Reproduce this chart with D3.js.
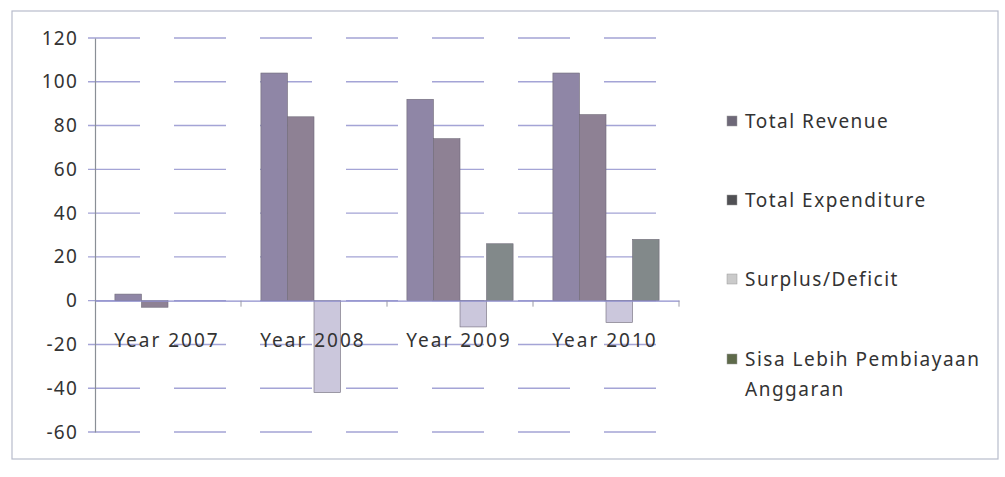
<!DOCTYPE html>
<html>
<head>
<meta charset="utf-8">
<script src="https://cdn.jsdelivr.net/npm/d3@7"></script>
<style>
  body { margin: 0; background: #fff; }
  text { font-family: "Noto Sans", "Open Sans", sans-serif; fill: #333; }
</style>
</head>
<body>
<div id="chart"></div>
<script>
// chart values
var years = ["Year 2007", "Year 2008", "Year 2009", "Year 2010"];
var seriesNames = ["Total Revenue", "Total Expenditure", "Surplus/Deficit", "Sisa Lebih Pembiayaan Anggaran"];
var revenue = [3, 104, 92, 104];
var expenditure = [-3, 84, 74, 85];
var surplus = [0, -42, -12, -10];
var silpa = [0, 0, 26, 28];
var yTicks = [-60, -40, -20, 0, 20, 40, 60, 80, 100, 120];

var svgWidth = 1005;
var svgHeight = 477;

var barColors = ["#8f86a6", "#8e8194", "#cbc7dc", "#82898a"];
var keyColors = ["#6e6878", "#505054", "#cacaca", "#5e6a4a"];

var svg = d3.select("#chart")
  .append("svg")
  .attr("width", svgWidth)
  .attr("height", svgHeight);

// outer frame of the pasted chart
svg.append("rect")
  .attr("x", 12).attr("y", 11)
  .attr("width", 986).attr("height", 448)
  .attr("fill", "none")
  .attr("stroke", "#b8bccc")
  .attr("stroke-width", 1.2);

var plot = { left: 95, right: 679, top: 38, bottom: 432 };

var y = d3.scaleLinear()
  .domain([-60, 120])
  .range([plot.bottom, plot.top]);

var x0 = d3.scaleBand()
  .domain(years)
  .range([plot.left, plot.right])
  .paddingInner(0)
  .paddingOuter(0);

var x1 = d3.scaleBand()
  .domain(seriesNames)
  .range([0, x0.bandwidth()])
  .paddingInner(0)
  .paddingOuter(0.75);

// gridlines (faded, scanned look)
svg.append("g")
  .selectAll("line")
  .data(yTicks)
  .enter()
  .append("line")
  .attr("x1", plot.left - 7)
  .attr("x2", plot.right)
  .attr("y1", d => y(d))
  .attr("y2", d => y(d))
  .attr("stroke", "#8e8ecc")
  .attr("stroke-width", 1.4)
  .attr("stroke-dasharray", "52,34")
  .attr("opacity", 0.8);

// y axis
var leftAxis = d3.axisLeft(y).tickValues(yTicks).tickSize(0).tickPadding(17)
  .tickFormat(d => String(d));
var yAxis = svg.append("g")
  .attr("transform", `translate(${plot.left}, 0)`)
  .call(leftAxis);
yAxis.select(".domain").attr("stroke", "#8a8f96").attr("stroke-width", 1.2);
yAxis.selectAll("text")
  .attr("font-size", 19)
  .attr("letter-spacing", 1.2)
  .attr("fill", "#3a3a3a")
  .style("font-family", "'Noto Sans', sans-serif");

// bars
var rows = years.map(function (yr, i) {
  return { year: yr, values: [revenue[i], expenditure[i], surplus[i], silpa[i]] };
});

var groups = svg.selectAll(".yearGroup")
  .data(rows)
  .enter()
  .append("g")
  .attr("class", "yearGroup")
  .attr("transform", d => `translate(${x0(d.year)}, 0)`);

groups.selectAll("rect")
  .data(d => d.values
    .map((v, j) => ({ name: seriesNames[j], value: v, idx: j }))
    .filter(b => b.value !== 0))
  .enter()
  .append("rect")
  .attr("x", d => x1(d.name))
  .attr("width", x1.bandwidth())
  .attr("y", d => y(Math.max(0, d.value)))
  .attr("height", d => Math.abs(y(d.value) - y(0)))
  .attr("fill", d => barColors[d.idx])
  .attr("stroke", "#6f6a78")
  .attr("stroke-width", 0.6);

// x axis at zero
var bottomAxis = d3.axisBottom(x0).tickSize(0).tickFormat("");
var xAxis = svg.append("g")
  .attr("transform", `translate(0, ${y(0)})`)
  .call(bottomAxis);
xAxis.select(".domain").attr("stroke", "#8e8ecc").attr("stroke-width", 1.4);

// category boundary ticks
svg.append("g")
  .selectAll("line")
  .data(years.slice(1).concat(["end"]))
  .enter()
  .append("line")
  .attr("x1", (d, i) => plot.left + x0.step() * (i + 1))
  .attr("x2", (d, i) => plot.left + x0.step() * (i + 1))
  .attr("y1", y(0))
  .attr("y2", y(0) + 6)
  .attr("stroke", "#9a9aa8")
  .attr("stroke-width", 1);

// category labels
svg.append("g")
  .selectAll("text")
  .data(years)
  .enter()
  .append("text")
  .attr("x", d => x0(d) + x0.bandwidth() / 2 - 1)
  .attr("y", 347)
  .attr("text-anchor", "middle")
  .attr("font-size", 19)
  .attr("letter-spacing", 2)
  .attr("fill", "#2e2e2e")
  .text(d => d);

// legend
var legendRows = [
  { lines: ["Total Revenue"], y: 128 },
  { lines: ["Total Expenditure"], y: 207 },
  { lines: ["Surplus/Deficit"], y: 286 },
  { lines: ["Sisa Lebih Pembiayaan", "Anggaran"], y: 366 }
];

var legend = svg.append("g");
legendRows.forEach(function (r, i) {
  legend.append("rect")
    .attr("x", 727)
    .attr("y", r.y - 12)
    .attr("width", 10)
    .attr("height", 10)
    .attr("fill", keyColors[i])
    .attr("stroke", "#9a9a9a")
    .attr("stroke-width", 0.5);
  r.lines.forEach(function (ln, k) {
    legend.append("text")
      .attr("x", 745)
      .attr("y", r.y + k * 30)
      .attr("font-size", 19)
      .attr("letter-spacing", 1.5)
      .attr("fill", "#3a3a3a")
      .text(ln);
  });
});
</script>
</body>
</html>
